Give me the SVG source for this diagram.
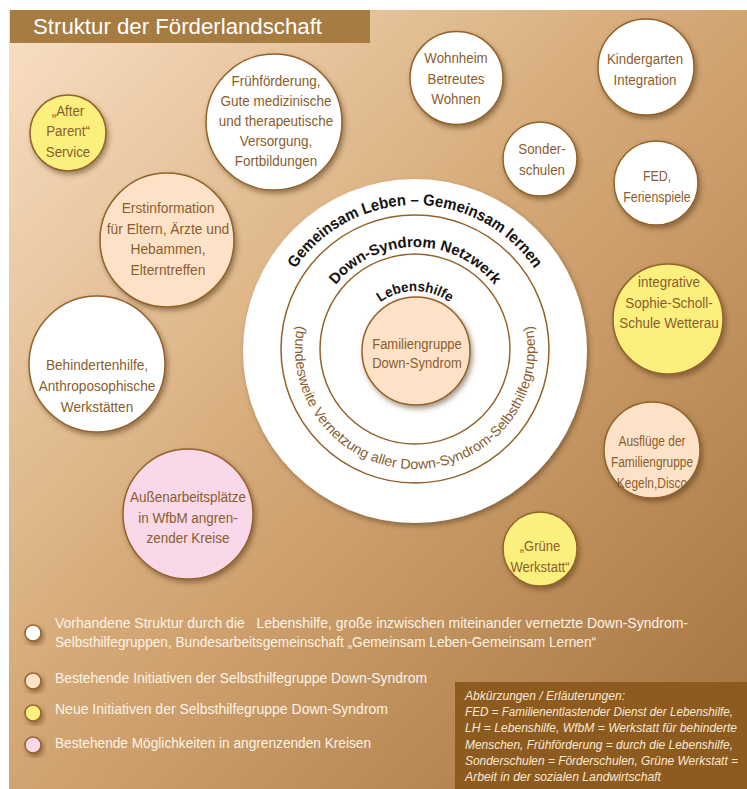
<svg xmlns="http://www.w3.org/2000/svg" width="747" height="789" viewBox="0 0 747 789">
<defs>
<linearGradient id="bg" x1="0" y1="0" x2="1" y2="1">
<stop offset="0" stop-color="#f9e0c5"/>
<stop offset="0.45" stop-color="#d6aa78"/>
<stop offset="1" stop-color="#a2713b"/>
</linearGradient>
<filter id="sh" x="-20%" y="-20%" width="150%" height="150%">
<feDropShadow dx="2" dy="3" stdDeviation="2.5" flood-color="#4a2e0c" flood-opacity="0.5"/>
</filter>
<path id="arc1" d="M 271,349 A 144 144 0 0 1 559,349"/>
<path id="arc2" d="M 313,349 A 102 102 0 0 1 517,349"/>
<path id="arc3" d="M 357,349 A 58 58 0 0 1 473,349"/>
<path id="arc4" d="M 299.1,317.9 A 120 120 0 1 0 530.9,317.9"/>
</defs>
<style>
.c{stroke:#93622a;stroke-width:1.5;filter:url(#sh)}
.w{fill:#ffffff}.p{fill:#fde2c8}.y{fill:#fbf07d}.k{fill:#f9d8e9}
.t{font-family:"Liberation Sans",Arial,sans-serif;font-size:15.5px;fill:#8b5d2c;text-anchor:middle}
.ring{fill:none;stroke:#93622a;stroke-width:1.5}
.rt{font-family:"Liberation Sans",Arial,sans-serif;font-weight:bold;fill:#161210}
.lg{font-family:"Liberation Sans",Arial,sans-serif;font-size:14px;fill:#fdf3e6}
.ab{font-family:"Liberation Sans",Arial,sans-serif;font-size:12px;font-style:italic;fill:#fbe9d4}
</style>

<rect x="9" y="10" width="738" height="779" fill="url(#bg)"/>
<g id="title">
<rect x="10" y="10" width="360" height="33" fill="#a67c42"/>
<text x="33" y="34" font-family="Liberation Sans, Arial, sans-serif" font-size="22" fill="#ffffff" textLength="289" lengthAdjust="spacingAndGlyphs">Struktur der Förderlandschaft</text>
</g>

<g id="connectors"></g>

<g id="center-rings">
<circle cx="415" cy="351" r="172" fill="#ffffff" filter="url(#sh)"/>
<circle class="ring" cx="415" cy="349" r="134"/>
<circle class="ring" cx="415" cy="349" r="95"/>
<text class="rt" font-size="16"><textPath href="#arc1" startOffset="50%" text-anchor="middle" textLength="282" lengthAdjust="spacingAndGlyphs">Gemeinsam Leben – Gemeinsam lernen</textPath></text>
<text class="rt" font-size="15"><textPath href="#arc2" startOffset="50%" text-anchor="middle" textLength="182" lengthAdjust="spacingAndGlyphs">Down-Syndrom Netzwerk</textPath></text>
<text class="rt" font-size="14"><textPath href="#arc3" startOffset="50%" text-anchor="middle" textLength="74" lengthAdjust="spacingAndGlyphs">Lebenshilfe</textPath></text>
<text font-family="Liberation Sans, Arial, sans-serif" font-size="14" fill="#8b5d2c"><textPath href="#arc4" startOffset="50%" text-anchor="middle" textLength="424" lengthAdjust="spacingAndGlyphs">(bundesweite Vernetzung aller Down-Syndrom-Selbsthilfegruppen)</textPath></text>
</g>

<g id="familiengruppe">
<circle class="c p" cx="416" cy="351" r="54"/>
<g transform="translate(417 0) scale(0.84 1)">
<text class="t" x="0" y="349">Familiengruppe</text>
<text class="t" x="0" y="368">Down-Syndrom</text>
</g>
</g>

<g id="after-parent">
<circle class="c y" cx="68" cy="133" r="38"/>
<g transform="translate(68 0) scale(0.86 1)">
<text class="t" x="0" y="116">„After</text>
<text class="t" x="0" y="136">Parent“</text>
<text class="t" x="0" y="157">Service</text>
</g>
</g>

<g id="fruehfoerderung">
<circle class="c w" cx="274" cy="122" r="68"/>
<g transform="translate(276 0) scale(0.87 1)">
<text class="t" x="0" y="86">Frühförderung,</text>
<text class="t" x="0" y="106">Gute medizinische</text>
<text class="t" x="0" y="126">und therapeutische</text>
<text class="t" x="0" y="146">Versorgung,</text>
<text class="t" x="0" y="166">Fortbildungen</text>
</g>
</g>

<g id="wohnheim">
<circle class="c w" cx="456.5" cy="78" r="46.5"/>
<g transform="translate(456 0) scale(0.86 1)">
<text class="t" x="0" y="63">Wohnheim</text>
<text class="t" x="0" y="84">Betreutes</text>
<text class="t" x="0" y="104">Wohnen</text>
</g>
</g>

<g id="kindergarten">
<circle class="c w" cx="646" cy="67" r="48"/>
<g transform="translate(645 0) scale(0.86 1)">
<text class="t" x="0" y="64">Kindergarten</text>
<text class="t" x="0" y="85">Integration</text>
</g>
</g>

<g id="sonderschulen">
<circle class="c w" cx="540" cy="159" r="37"/>
<g transform="translate(542 0) scale(0.86 1)">
<text class="t" x="0" y="154">Sonder-</text>
<text class="t" x="0" y="175">schulen</text>
</g>
</g>

<g id="fed">
<circle class="c w" cx="656" cy="183" r="42"/>
<g transform="translate(657 0) scale(0.8 1)">
<text class="t" x="0" y="181">FED,</text>
<text class="t" x="0" y="202">Ferienspiele</text>
</g>
</g>

<g id="erstinformation">
<circle class="c p" cx="167" cy="240" r="67"/>
<g transform="translate(168 0) scale(0.89 1)">
<text class="t" x="0" y="213">Erstinformation</text>
<text class="t" x="0" y="234">für Eltern, Ärzte und</text>
<text class="t" x="0" y="254">Hebammen,</text>
<text class="t" x="0" y="275">Elterntreffen</text>
</g>
</g>

<g id="sophie-scholl">
<circle class="c y" cx="668" cy="319" r="55"/>
<g transform="translate(669 0) scale(0.87 1)">
<text class="t" x="0" y="287">integrative</text>
<text class="t" x="0" y="308">Sophie-Scholl-</text>
<text class="t" x="0" y="328">Schule Wetterau</text>
</g>
</g>

<g id="behindertenhilfe">
<circle class="c w" cx="97" cy="364" r="68"/>
<g transform="translate(97 0) scale(0.88 1)">
<text class="t" x="0" y="370">Behindertenhilfe,</text>
<text class="t" x="0" y="391">Anthroposophische</text>
<text class="t" x="0" y="412">Werkstätten</text>
</g>
</g>

<g id="ausfluege">
<circle class="c p" cx="652" cy="450" r="48"/>
<g transform="translate(652 0) scale(0.77 1)">
<text class="t" x="0" y="446">Ausflüge der</text>
<text class="t" x="0" y="467">Familiengruppe</text>
<text class="t" x="0" y="488">Kegeln,Disco</text>
</g>
</g>

<g id="aussenarbeitsplaetze">
<circle class="c k" cx="188" cy="514" r="65"/>
<g transform="translate(188 0) scale(0.87 1)">
<text class="t" x="0" y="502">Außenarbeitsplätze</text>
<text class="t" x="0" y="523">in WfbM angren-</text>
<text class="t" x="0" y="543">zender Kreise</text>
</g>
</g>

<g id="gruene-werkstatt">
<circle class="c y" cx="540" cy="549" r="37"/>
<g transform="translate(540 0) scale(0.84 1)">
<text class="t" x="0" y="551">„Grüne</text>
<text class="t" x="0" y="572">Werkstatt“</text>
</g>
</g>

<g id="legend">
<circle class="c w" cx="33" cy="633" r="8"/>
<circle class="c p" cx="33" cy="681" r="8"/>
<circle class="c y" cx="33" cy="713" r="8"/>
<circle class="c k" cx="33" cy="745" r="8"/>
<text class="lg" x="55" y="628" style="white-space:pre" textLength="633" lengthAdjust="spacingAndGlyphs">Vorhandene Struktur durch die   Lebenshilfe, große inzwischen miteinander vernetzte Down-Syndrom-</text>
<text class="lg" x="55" y="647" textLength="541" lengthAdjust="spacingAndGlyphs">Selbsthilfegruppen, Bundesarbeitsgemeinschaft „Gemeinsam Leben-Gemeinsam Lernen“</text>
<text class="lg" x="55" y="683" textLength="372" lengthAdjust="spacingAndGlyphs">Bestehende Initiativen der Selbsthilfegruppe Down-Syndrom</text>
<text class="lg" x="55" y="714" textLength="333" lengthAdjust="spacingAndGlyphs">Neue Initiativen der Selbsthilfegruppe Down-Syndrom</text>
<text class="lg" x="55" y="748" textLength="316" lengthAdjust="spacingAndGlyphs">Bestehende Möglichkeiten in angrenzenden Kreisen</text>
</g>

<g id="abkuerzungen">
<rect x="455" y="682" width="292" height="107" fill="#8d5b20"/>
<text class="ab" x="465" y="700" textLength="160" lengthAdjust="spacingAndGlyphs">Abkürzungen / Erläuterungen:</text>
<text class="ab" x="465" y="716" textLength="268" lengthAdjust="spacingAndGlyphs">FED = Familienentlastender Dienst der Lebenshilfe,</text>
<text class="ab" x="465" y="732" textLength="272" lengthAdjust="spacingAndGlyphs">LH = Lebenshilfe, WfbM = Werkstatt für behinderte</text>
<text class="ab" x="465" y="749" textLength="268" lengthAdjust="spacingAndGlyphs">Menschen, Frühförderung = durch die Lebenshilfe,</text>
<text class="ab" x="465" y="765" textLength="273" lengthAdjust="spacingAndGlyphs">Sonderschulen = Förderschulen, Grüne Werkstatt =</text>
<text class="ab" x="465" y="781" textLength="196" lengthAdjust="spacingAndGlyphs">Arbeit in der sozialen Landwirtschaft</text>
</g>
</svg>
